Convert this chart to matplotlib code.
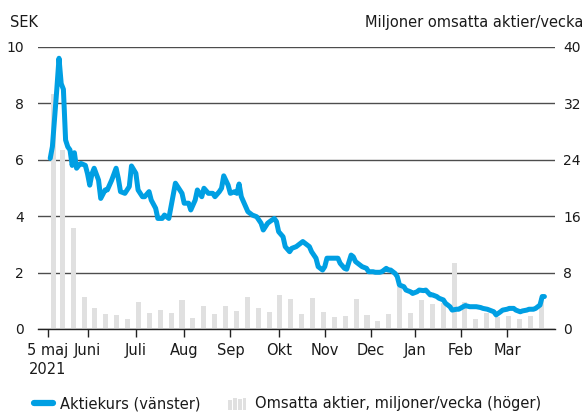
import matplotlib
matplotlib.use("Agg")
import matplotlib.pyplot as plt
from matplotlib.legend_handler import HandlerBase
from matplotlib.patches import Rectangle
from matplotlib.lines import Line2D
import numpy as np

plt.rcParams['font.family'] = ['DejaVu Sans']

# trading-day index (0 = 5 maj 2021) and share price, SEK
price_day = [1, 2, 4, 5, 6, 7, 8, 9, 10, 11, 12, 13, 14, 15, 17, 18, 19, 20, 21, 23,
             24, 26, 27, 29, 31, 32, 33, 35, 37, 38, 40, 41, 43, 44, 46, 47, 49, 50, 52, 53,
             55, 56, 58, 59, 61, 62, 64, 65, 67, 68, 70, 71, 73, 75, 76, 78, 79, 80, 82, 83,
             85, 86, 87, 88, 90, 91, 93, 95, 97, 98, 100, 101, 103, 104, 105, 107, 108, 110, 111, 113,
             114, 116, 117, 119, 120, 122, 123, 125, 126, 127, 129, 130, 132, 133, 135, 136, 138, 139, 140, 142,
             143, 145, 146, 148, 149, 151, 152, 154, 155, 156, 158, 159, 160, 162, 163, 165, 166, 168, 169, 171,
             172, 174, 175, 177, 178, 180, 181, 183, 184, 186, 187, 189, 190, 192, 193, 195, 197, 198, 200, 201,
             203, 204, 206, 207, 209, 210, 212, 213, 215, 216, 218, 219, 221, 222, 224, 225, 226]
price_sek = [6.05, 6.47, 8.5, 9.6, 8.7, 8.5, 6.7, 6.46, 6.35, 5.8, 6.25, 5.7, 5.8, 5.87, 5.8, 5.5, 5.1, 5.5, 5.7, 5.28,
             4.63, 4.93, 4.93, 5.28, 5.7, 5.34, 4.87, 4.81, 5.05, 5.78, 5.52, 4.93, 4.69, 4.69, 4.87, 4.57, 4.28, 3.92, 3.92, 4.04,
             3.92, 4.34, 5.17, 5.05, 4.81, 4.46, 4.46, 4.22, 4.57, 4.93, 4.69, 4.99, 4.81, 4.81, 4.69, 4.87, 4.99, 5.43, 5.1, 4.81,
             4.87, 4.81, 5.14, 4.69, 4.34, 4.16, 4.04, 3.98, 3.75, 3.51, 3.75, 3.81, 3.92, 3.81, 3.45, 3.27, 2.92, 2.74, 2.86, 2.92,
             2.98, 3.1, 3.04, 2.92, 2.74, 2.51, 2.21, 2.09, 2.21, 2.51, 2.51, 2.51, 2.51, 2.33, 2.15, 2.12, 2.62, 2.56, 2.39, 2.27,
             2.21, 2.15, 2.03, 2.03, 2.01, 2.01, 2.03, 2.15, 2.09, 2.09, 1.97, 1.86, 1.56, 1.5, 1.38, 1.32, 1.26, 1.32, 1.38, 1.36,
             1.38, 1.21, 1.21, 1.15, 1.09, 1.03, 0.91, 0.79, 0.67, 0.70, 0.70, 0.79, 0.83, 0.79, 0.79, 0.79, 0.76, 0.73, 0.70, 0.67,
             0.61, 0.5, 0.61, 0.67, 0.70, 0.73, 0.73, 0.67, 0.61, 0.64, 0.67, 0.70, 0.70, 0.73, 0.85, 1.15, 1.15]

# weekly traded volume, million shares (week 0 = partial first week)
vol_week = list(range(46))
vol_mn = [33.4, 25.4, 14.3, 4.6, 3.0, 2.1, 2.0, 1.4, 3.76, 2.33, 2.71, 2.33, 4.14, 1.57, 3.29, 2.19, 3.29, 2.57, 4.57, 3.0,
          2.43, 4.86, 4.29, 2.14, 4.43, 2.43, 1.71, 1.86, 4.29, 2.0, 1.14, 2.14, 6.0, 2.33, 4.14, 3.48, 3.67, 9.29, 3.86, 1.43,
          2.24, 1.76, 1.9, 1.43, 1.9, 4.4]

month_day = [0, 18, 40, 62, 83, 105, 126, 147, 167, 188, 209]
month_lbl = ['5 maj\n2021', 'Juni', 'Juli', 'Aug', 'Sep', 'Okt', 'Nov', 'Dec', 'Jan', 'Feb', 'Mar']

left_ticks = [0, 2, 4, 6, 8, 10]
right_ticks = [0, 8, 16, 24, 32, 40]

BLUE = '#009FE3'
GREY = '#E0E0E0'
GRID = '#4d4d4d'
TXT = '#1a1a1a'
FS = 10.5
NFS = 10

# weekly bar positions on the trading-day axis
bar_x = [2.7 if w == 0 else 6.5 + 4.955 * (w - 1) for w in vol_week]

fig = plt.figure(figsize=(5.85, 4.12), dpi=100)
ax = fig.add_axes([0.065, 0.2015, 0.884, 0.6845])
ax2 = ax.twinx()

# bars on the right axis (drawn first, behind)
ax2.bar(bar_x, vol_mn, width=2.3, color=GREY, zorder=1)
ax2.set_ylim(0, 40)
ax2.set_yticks(right_ticks)

ax.set_ylim(0, 10)
ax.set_yticks(left_ticks)
for v in left_ticks:
    ax2.axhline(v * 4, color=GRID, lw=1.0, zorder=0)

ax.set_zorder(ax2.get_zorder() + 1)
ax.patch.set_visible(False)
ax.plot(price_day, price_sek, color=BLUE, lw=3.6, solid_joinstyle='round',
        solid_capstyle='round', zorder=5)

ax.set_xlim(-4.55, 230.9)
ax.set_xticks(month_day)
ax.set_xticklabels(month_lbl, fontsize=FS, color=TXT, linespacing=1.35)

for a in (ax, ax2):
    for s in a.spines.values():
        s.set_visible(False)
ax2.spines['bottom'].set_visible(True)
ax2.spines['bottom'].set_color('#222222')
ax2.spines['bottom'].set_linewidth(1.0)

ax.tick_params(axis='x', direction='out', length=6, width=1, color='#222222', pad=4)
ax.tick_params(axis='y', length=0, pad=10, labelsize=NFS, labelcolor=TXT)
ax2.tick_params(axis='y', length=0, pad=6, labelsize=NFS, labelcolor=TXT)
ax2.tick_params(axis='x', length=0)

fig.text(0.017, 0.945, 'SEK', fontsize=FS, color=TXT, ha='left', va='center')
fig.text(0.997, 0.945, 'Miljoner omsatta aktier/vecka', fontsize=FS, color=TXT,
         ha='right', va='center')


class BarsHandler(HandlerBase):
    def create_artists(self, legend, orig_handle, xdescent, ydescent, width, height,
                       fontsize, trans):
        arts = []
        hs = [0.85, 1.0, 0.9, 1.05]
        n = len(hs)
        w = width / n
        for i, h in enumerate(hs):
            r = Rectangle((-xdescent + i * w, -ydescent - 0.2 * height), w * 0.8, height * (h + 0.2),
                          facecolor=GREY, edgecolor='none', transform=trans)
            arts.append(r)
        return arts


h_line = Line2D([0], [0], color=BLUE, lw=4.5, solid_capstyle='round')
h_bar = Rectangle((0, 0), 1, 1)
leg = fig.legend([h_line, h_bar],
                 ['Aktiekurs (vänster)', 'Omsatta aktier, miljoner/vecka (höger)'],
                 handler_map={Rectangle: BarsHandler()},
                 loc='center left', bbox_to_anchor=(0.058, 0.02), ncol=2, frameon=False,
                 fontsize=FS, handlelength=1.3, handletextpad=0.5, columnspacing=1.9,
                 borderaxespad=0, borderpad=0)
for t in leg.get_texts():
    t.set_color(TXT)

fig.savefig('out.png', dpi=100)
